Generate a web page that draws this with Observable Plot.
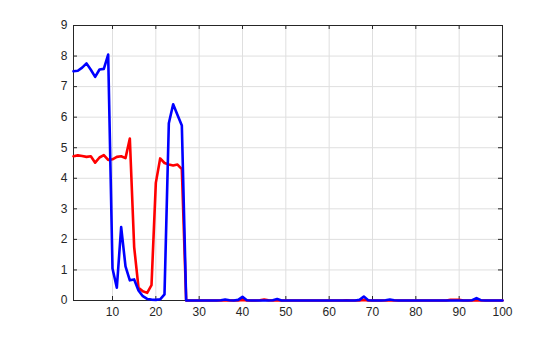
<!DOCTYPE html>
<html>
<head>
<meta charset="utf-8">
<script src="https://cdn.jsdelivr.net/npm/d3@7"></script>
<script src="https://cdn.jsdelivr.net/npm/@observablehq/plot@0.6"></script>
<style>
  html, body { margin: 0; padding: 0; background: #ffffff; }
  #chart { width: 560px; height: 337px; }
</style>
</head>
<body>
<div id="chart"></div>
<script>
// x positions (sample index)
const xs = d3.range(1, 101);

// Red series values (x = 1..100)
const redValues = [
  4.72, 4.75, 4.73, 4.70, 4.72, 4.51, 4.68, 4.76, 4.60, 4.62,
  4.70, 4.72, 4.66, 5.30, 1.75, 0.42, 0.30, 0.25, 0.50, 3.85,
  4.65, 4.50, 4.45, 4.42, 4.45, 4.30, 0.00, 0.00, 0.00, 0.00,
  0.00, 0.00, 0.00, 0.00, 0.00, 0.01, 0.00, 0.00, 0.00, 0.02,
  0.00, 0.00, 0.00, 0.01, 0.03, 0.01, 0.00, 0.01, 0.00, 0.00,
  0.00, 0.00, 0.00, 0.00, 0.00, 0.00, 0.00, 0.00, 0.00, 0.00,
  0.00, 0.00, 0.00, 0.01, 0.00, 0.00, 0.00, 0.02, 0.00, 0.00,
  0.00, 0.00, 0.00, 0.01, 0.00, 0.00, 0.00, 0.00, 0.00, 0.00,
  0.00, 0.00, 0.00, 0.00, 0.00, 0.00, 0.00, 0.02, 0.02, 0.02,
  0.00, 0.00, 0.00, 0.01, 0.00, 0.00, 0.00, 0.00, 0.00, 0.00
];

// Blue series values (x = 1..100)
const blueValues = [
  7.50, 7.52, 7.62, 7.76, 7.55, 7.32, 7.56, 7.58, 8.05, 1.05,
  0.42, 2.40, 1.12, 0.66, 0.69, 0.33, 0.14, 0.05, 0.03, 0.02,
  0.04, 0.20, 5.80, 6.42, 6.07, 5.73, 0.00, 0.00, 0.00, 0.00,
  0.00, 0.00, 0.00, 0.00, 0.01, 0.03, 0.01, 0.00, 0.02, 0.12,
  0.01, 0.00, 0.00, 0.00, 0.00, 0.00, 0.01, 0.05, 0.00, 0.00,
  0.00, 0.00, 0.00, 0.00, 0.00, 0.00, 0.00, 0.00, 0.00, 0.00,
  0.00, 0.00, 0.00, 0.00, 0.00, 0.00, 0.02, 0.13, 0.01, 0.00,
  0.00, 0.00, 0.01, 0.03, 0.01, 0.00, 0.00, 0.00, 0.00, 0.00,
  0.00, 0.00, 0.00, 0.00, 0.00, 0.00, 0.00, 0.00, 0.00, 0.00,
  0.00, 0.00, 0.01, 0.08, 0.01, 0.00, 0.00, 0.00, 0.00, 0.00
];

// Tick values / labels
const xTicks = [10, 20, 30, 40, 50, 60, 70, 80, 90, 100];
const yTicks = [0, 1, 2, 3, 4, 5, 6, 7, 8, 9];

const red = xs.map((x, i) => ({x, y: redValues[i]}));
const blue = xs.map((x, i) => ({x, y: blueValues[i]}));

const W = 560, H = 337;
const mL = 73, mR = 58, mT = 25, mB = 37;
const innerW = W - mL - mR, innerH = H - mT - mB;
const axisColor = "#262626";
const gridColor = "#dfdfdf";
const tickLen = 4;

const chart = Plot.plot({
  width: W,
  height: H,
  marginLeft: mL,
  marginRight: mR,
  marginTop: mT,
  marginBottom: mB,
  style: {
    background: "#ffffff",
    fontFamily: "'Liberation Sans', Arial, Helvetica, sans-serif",
    fontSize: "12px",
    color: axisColor
  },
  x: {domain: [1, 100]},
  y: {domain: [0, 9]},
  marks: [
    Plot.gridX(xTicks, {stroke: gridColor, strokeOpacity: 1}),
    Plot.gridY(yTicks, {stroke: gridColor, strokeOpacity: 1}),
    Plot.frame({stroke: axisColor, strokeWidth: 1}),
    // inward tick marks on all four sides
    Plot.tickX(xTicks, {x: d => d, stroke: axisColor, insetTop: innerH - tickLen}),
    Plot.tickX(xTicks, {x: d => d, stroke: axisColor, insetBottom: innerH - tickLen}),
    Plot.tickY(yTicks, {y: d => d, stroke: axisColor, insetRight: innerW - tickLen}),
    Plot.tickY(yTicks, {y: d => d, stroke: axisColor, insetLeft: innerW - tickLen}),
    Plot.axisX(xTicks, {tickSize: 0, tickPadding: 7, label: null, fill: axisColor, fontSize: 12}),
    Plot.axisY(yTicks, {tickSize: 0, tickPadding: 6, label: null, fill: axisColor, fontSize: 12}),
    Plot.line(red, {x: "x", y: "y", stroke: "#ff0000", strokeWidth: 2.6, strokeLinejoin: "round"}),
    Plot.line(blue, {x: "x", y: "y", stroke: "#0000ff", strokeWidth: 2.6, strokeLinejoin: "round"})
  ]
});

document.getElementById("chart").appendChild(chart);
</script>
</body>
</html>
